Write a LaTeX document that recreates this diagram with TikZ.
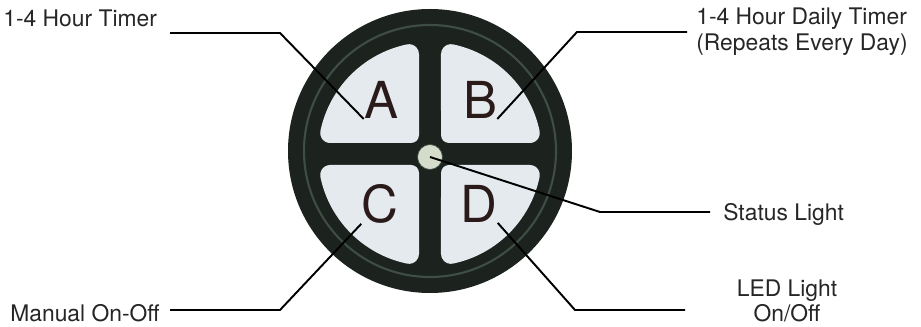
\documentclass[tikz,border=0pt]{standalone}
\usepackage{fontspec}
\setmainfont{TeX Gyre Heros}
\usetikzlibrary{positioning}
\definecolor{ring}{RGB}{28,34,30}
\definecolor{ringhi}{RGB}{62,78,68}
\definecolor{pad}{RGB}{228,234,237}
\definecolor{keyink}{RGB}{42,26,26}
\definecolor{lamp}{RGB}{214,220,204}

\begin{document}
\begin{tikzpicture}[x=0.02cm, y=-0.02cm, every node/.style={font=\fontsize{13}{14.7}\selectfont, text=black!85}, lbl/.style={inner sep=0pt}, key/.style={inner sep=0pt, font=\fontsize{29}{29}\selectfont, text=keyink}, led/.style={circle, fill=lamp, draw=ringhi, line width=0.4pt, inner sep=0pt, minimum size=5mm}, lead/.style={line width=1.1pt, black}]
	\useasboundingbox (0,0) rectangle (921,327);
	% the button: dark ring and cross, four light pads
	\fill[ring] (430,151) circle[radius=142];
	\draw[ringhi, line width=1.2pt] (430,151) circle[radius=126];
	\begin{scope}[shift={(430,154)}, x=0.02cm, y=0.02cm]
		\foreach \sx/\sy in {1/1, -1/1, 1/-1, -1/-1}
			\fill[pad, xscale=\sx, yscale=\sy] (19,11) -- (99.81,11) arc[start angle=270, end angle=371.88, radius=10]
				arc[start angle=11.88, end angle=78.12, radius=112] arc[start angle=78.12, end angle=180, radius=10]
				-- (11,19) arc[start angle=180, end angle=270, radius=8] -- cycle;
	\end{scope}
	\node[led] (light) at (430,157) {};
	\node[key] (A) at (381,100) {A};
	\node[key] (B) at (480,100) {B};
	\node[key] (C) at (380,204) {C};
	\node[key] (D) at (479,204) {D};
	% labels
	\node[lbl, anchor=base west] (tA) at (3,27) {1-4 Hour Timer};
	\node[lbl, anchor=north west, align=left] (tB) at (696,8) {1-4 Hour Daily Timer\\(Repeats Every Day)};
	\node[lbl, anchor=base west] (tS) at (723,221) {Status Light};
	\node[lbl, anchor=north, align=center, font=\fontsize{13}{14.2}\selectfont] (tD) at (787,280) {LED Light\\On/Off};
	\node[lbl, anchor=base west] (tC) at (10,322) {Manual On-Off};
	% leader lines
	\coordinate (eA) at (170,33); \coordinate (eB) at (687,32);
	\coordinate (eS) at (710,212); \coordinate (eD) at (685,310);
	\coordinate (eC) at (170,310);
	\draw[lead] (eA) -- ++(110,0) -- (A.south west);
	\draw[lead] (eB) -- ++(-110,0) -- (B.south east);
	\draw[lead] (eS) -- ++(-110,0) -- (light.center);
	\draw[lead] (eD) -- ++(-110,0) -- (D.south east);
	\draw[lead] (eC) -- ++(110,0) -- (C.south west);
\end{tikzpicture}
\end{document}
